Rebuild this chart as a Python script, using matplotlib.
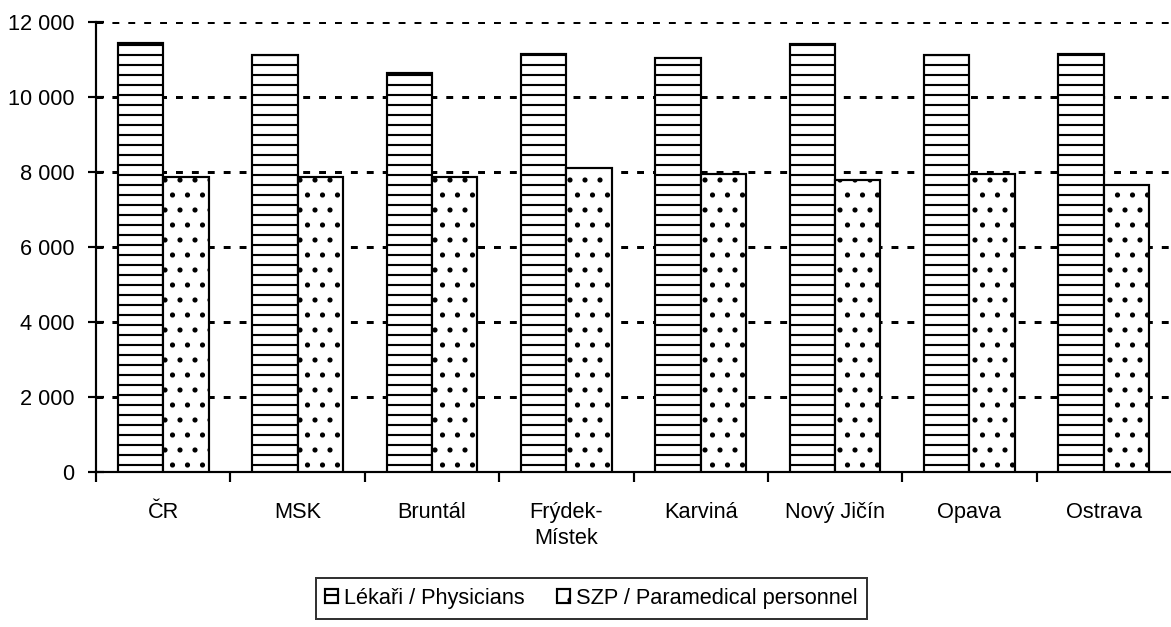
import matplotlib.pyplot as plt
import numpy as np
from matplotlib.ticker import FuncFormatter, FixedLocator

# dpi 180 so that the hatch spacing comes close to the original pattern
DPI = 180
plt.rcParams['font.family'] = ['Liberation Sans', 'DejaVu Sans']
plt.rcParams['hatch.linewidth'] = 0.85

categories = ['ČR', 'MSK', 'Bruntál', 'Frýdek-\nMístek', 'Karviná', 'Nový Jičín', 'Opava', 'Ostrava']
physicians = [11430, 11120, 10630, 11160, 11030, 11410, 11110, 11160]
paramedical = [7860, 7860, 7880, 8100, 7950, 7790, 7950, 7650]
series_names = ['Lékaři / Physicians', 'SZP / Paramedical personnel']
yticks = [0, 2000, 4000, 6000, 8000, 10000, 12000]

fig = plt.figure(figsize=(1171 / DPI, 627 / DPI), dpi=DPI)
ax = fig.add_axes([96 / 1171, 1 - 472 / 627, 1 - 96 / 1171, 450 / 627])

x = np.arange(len(categories))
w = 0.338
ax.bar(x - w / 2, physicians, w, color='white', edgecolor='black', linewidth=0.87,
       hatch='---', label=series_names[0], zorder=3)
ax.bar(x + w / 2, paramedical, w, color='white', edgecolor='black', linewidth=0.87,
       hatch='..', label=series_names[1], zorder=3)

ax.set_xlim(-0.5, len(categories) - 0.5)
ax.set_ylim(0, 12000)
ax.set_yticks(yticks)
ax.yaxis.set_major_formatter(FuncFormatter(lambda v, p: '{:,}'.format(int(v)).replace(',', ' ')))

# category labels in the middle, tick marks on the boundaries
ax.set_xticks(x)
ax.set_xticklabels(categories, fontsize=8.7, linespacing=1.3)
ax.xaxis.set_minor_locator(FixedLocator(np.arange(len(categories)) - 0.5))
ax.tick_params(axis='x', which='major', length=0, pad=12)
ax.tick_params(axis='x', which='minor', length=4, width=0.87, direction='out')
ax.tick_params(axis='y', length=6.7, width=0.87, direction='inout', labelsize=8.7, pad=5.3)

ax.grid(axis='y', color='black', linestyle=(0, (2.3, 3.0)), linewidth=1.2, zorder=0)
ax.set_axisbelow(True)
for s in ['top', 'right']:
    ax.spines[s].set_visible(False)
ax.spines['left'].set_linewidth(0.87)
ax.spines['bottom'].set_linewidth(0.87)

leg = fig.legend(loc='upper center', bbox_to_anchor=(0.505, 1 - 578 / 627), ncol=2,
                 fontsize=8.7, frameon=True, fancybox=False, edgecolor='black',
                 handlelength=0.6, handleheight=0.6, handletextpad=0.28,
                 columnspacing=1.45, borderpad=0.45, borderaxespad=0)
leg.get_frame().set_linewidth(0.8)

fig.savefig('out.png', dpi=DPI)
